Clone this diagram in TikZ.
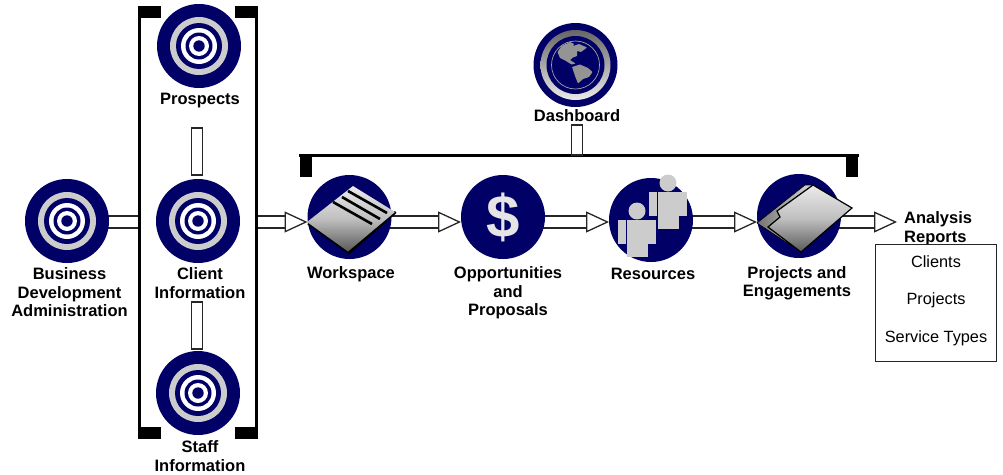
\documentclass[tikz,border=0pt]{standalone}
\usepackage{fontspec}
\setmainfont{Liberation Sans}
\usepackage{tikz}
\usetikzlibrary{arrows.meta}
\usetikzlibrary{backgrounds}
\definecolor{navy}{HTML}{000066}
\definecolor{ringgrey}{HTML}{CCCCCC}
\tikzset{
hub/.style={circle,fill=navy,minimum size=84pt,inner sep=0pt,outer sep=0pt},
lbl/.style={font=\fontsize{16.5}{18.5}\selectfont\bfseries,align=center,inner sep=0pt},
rpt/.style={font=\fontsize{16.3}{18.5}\selectfont,inner sep=0pt},
stub/.style={draw=black!85,line width=1.2pt,fill=white,minimum width=11pt,inner sep=0pt},
shaft/.style={draw=black!85,line width=1.3pt,double=white,double distance=10.6pt},
flow/.style={shaft,-{Triangle[length=23pt,width=21pt,fill=white,line width=1.3pt]}},
sheet/.style={top color=black!8,bottom color=black!65,middle color=black!25},
}
\begin{document}
\begin{tikzpicture}[x=1pt,y=-1pt]
\useasboundingbox (0,0) rectangle (1003,474);
\node[hub] (bda) at (67,221) {};
\node[hub] (prospects) at (199,46) {};
\node[hub] (client) at (198,221) {};
\node[hub] (staff) at (198,393) {};
\node[hub] (dashboard) at (575.5,65) {};
\node[hub] (workspace) at (349.5,217) {};
\node[hub] (opps) at (503,217) {};
\node[hub] (resources) at (651,220) {};
\node[hub] (projects) at (799,216) {};
\foreach \n in {bda,prospects,client,staff} {
\fill[ringgrey] (\n) circle (29);
\fill[navy] (\n) circle (23);
\fill[white] (\n) circle (18);
\fill[navy] (\n) circle (13.5);
\fill[white] (\n) circle (10);
\fill[navy] (\n) circle (5.7);
}
% group brackets
\coordinate (grpleft) at (139.5,222);
\coordinate (grpright) at (256.5,222);
\coordinate (rowy) at (0,222);
\draw[line width=3.2pt,miter limit=10] (161,7.6) -- (139.6,7.6) -- (139.6,437.4) -- (161,437.4);
\draw[line width=3.2pt] (235,7.6) -- (256.4,7.6) -- (256.4,437.4) -- (235,437.4);
\fill (138,6) rectangle (161,18);
\fill (235,6) rectangle (258,18);
\fill (138,427) rectangle (161,439);
\fill (235,427) rectangle (258,439);
\draw[line width=3.2pt] (299,155.5) -- (859,155.5);
\fill (300,155) rectangle (312,177);
\fill (846,155) rectangle (858,177);
\node[stub,minimum height=47pt] (linka) at (197,151.5) {};
\node[stub,minimum height=47pt] (linkb) at (197,325.5) {};
\node[stub,minimum height=30pt] (linkc) at (577,140) {};
\begin{scope}[on background layer]
\draw[shaft] (bda |- rowy) -- (grpleft);
\draw[flow] (grpright) -- (workspace.west |- rowy);
\draw[flow] (workspace |- rowy) -- (opps.west |- rowy);
\draw[flow] (opps |- rowy) -- (resources.west |- rowy);
\draw[flow] (resources |- rowy) -- (projects.west |- rowy);
\coordinate (rptarrow) at (897,222);
\draw[flow] (projects |- rowy) -- (rptarrow);
\end{scope}
% workspace icon
\fill[black] (307,224) -- (349,254.5) -- (396.5,213) -- (395,211) -- cycle;
\shade[sheet] (307,222) -- (353,186) -- (395,212) -- (348,251.5) -- cycle;
\draw[line width=2.6pt] (348,191) -- (387,213);
\draw[line width=2.6pt] (342,197) -- (380,219);
\draw[line width=2.6pt] (333,202) -- (372,224);
% dollar
\node[font=\fontsize{60}{60}\selectfont\bfseries,text=black!10,inner sep=0pt] (dollar) at (503,217) {\$};
% people
\fill[ringgrey] (668,183) circle (8.5);
\fill[ringgrey] (658,192) rectangle (687,216);
\fill[ringgrey] (658,192) rectangle (679,229);
\fill[ringgrey] (649,192) rectangle (657,216);
\fill[ringgrey] (637,211) circle (8.5);
\fill[ringgrey] (627,220) rectangle (656,244);
\fill[ringgrey] (627,220) rectangle (648,257);
\fill[ringgrey] (618,220) rectangle (626,244);
% folder
\shade[left color=black!55,right color=black!15,draw=black,line width=0.6pt] (757,223) -- (805,185) -- (813,185) -- (777,211) -- (780,217) -- (768,227) -- (801,252) -- cycle;
\shade[sheet,draw=black,line width=1.2pt] (813,185) -- (852,208) -- (801,252) -- (768,227) -- (780,217) -- (777,211) -- cycle;
% globe
\shade[top color=black!60,bottom color=black!8] (dashboard) circle (35);
\fill[navy] (dashboard) circle (29);
\draw[ringgrey!80!black,line width=0.7pt] (dashboard) circle (24);
\fill[black!42,rounded corners=0.5pt] (557.5,52) -- (561.5,46) -- (570,42) -- (574,44) -- (573,46) -- (579,44) -- (587,47.5) -- (581,52) -- (577,51) -- (577,56) -- (573,57.5) -- (570,60) -- (575.5,63.5) -- (571.5,64.5) -- (566,61) -- (560,58) -- cycle;
\fill[black!42,rounded corners=0.5pt] (572,67) -- (580,64.5) -- (588,68) -- (592.5,72) -- (589,77) -- (583,79) -- (578,83.5) -- (575,76) -- cycle;
% labels
\node[lbl] (prospectsl) at (200,100.5) {Prospects};
\node[lbl] (bdal) at (69.5,292.5) {Business\\Development\\Administration};
\node[lbl] (clientl) at (200,283) {Client\\Information};
\node[lbl] (staffl) at (200,456) {Staff\\Information};
\node[lbl] (dashboardl) at (577,116) {Dashboard};
\node[lbl] (workspacel) at (351,274) {Workspace};
\node[lbl] (oppsl) at (508,293) {Opportunities\\and\\Proposals};
\node[lbl] (resourcesl) at (653,274) {Resources};
\node[lbl] (projectsl) at (797,283.5) {Projects and\\Engagements};
\node[lbl,align=left,anchor=west] (analysis) at (904,228.5) {Analysis\\Reports};
\node[draw=black!85,line width=1.2pt,fill=white,minimum width=121pt,minimum height=117pt,inner sep=0pt] (reports) at (936,303) {};
\node[rpt] (clients) at (936,262) {Clients};
\node[rpt] (projs) at (936,300) {Projects};
\node[rpt] (svc) at (936,338) {Service Types};
\end{tikzpicture}
\end{document}
